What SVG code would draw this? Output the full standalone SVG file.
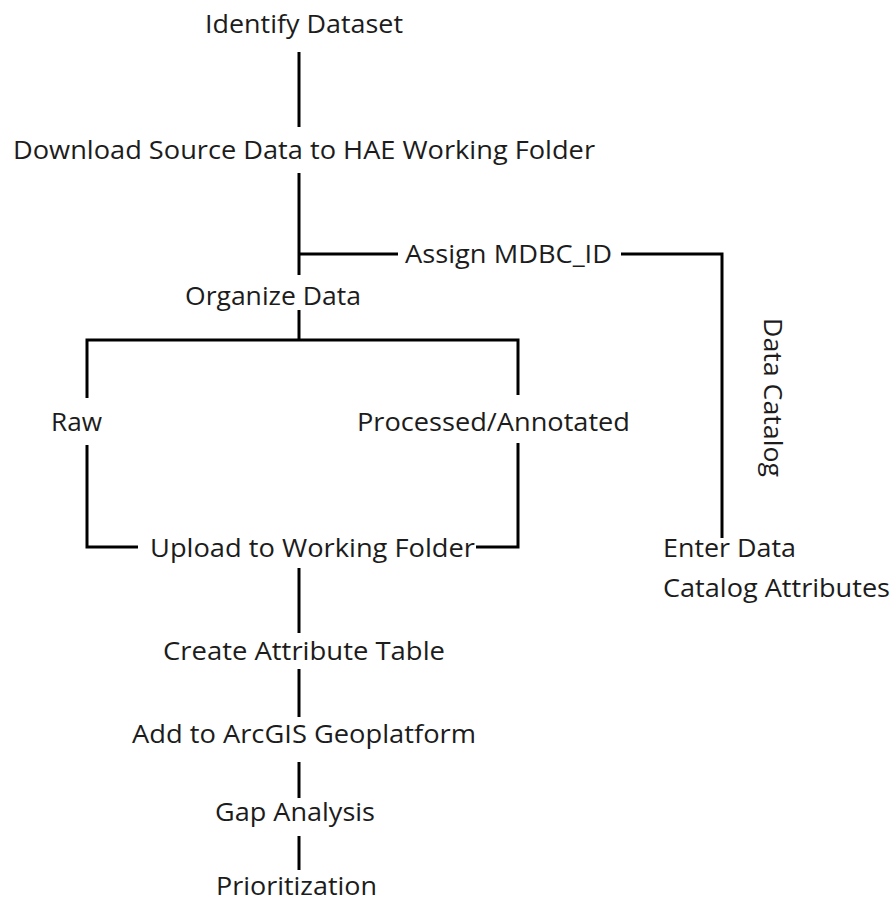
<svg xmlns="http://www.w3.org/2000/svg" width="896" height="899" viewBox="0 0 896 899">
<style>
  .bg { fill: #ffffff; }
  .lbl { font-family: "Open Sans", "Noto Sans", "Liberation Sans", sans-serif; font-size: 25.5px; fill: #1c1c1c; }
  .conn { fill: none; stroke: #000000; stroke-width: 3; stroke-linecap: butt; stroke-linejoin: miter; }
</style>
<rect class="bg" x="0" y="0" width="896" height="899"/>
<g id="connectors">
  <path class="conn" d="M299 52 V127"/>
  <path class="conn" d="M299 173 V275"/>
  <path class="conn" d="M299 254 H398"/>
  <path class="conn" d="M621 254 H722 V538"/>
  <path class="conn" d="M299 310 V340"/>
  <path class="conn" d="M87 398 V340 H518 V395"/>
  <path class="conn" d="M87 445 V547 H138"/>
  <path class="conn" d="M476 547 H518 V443"/>
  <path class="conn" d="M299 568 V633"/>
  <path class="conn" d="M299 669 V717"/>
  <path class="conn" d="M299 762 V798"/>
  <path class="conn" d="M299 836 V870"/>
</g>
<g id="identify-dataset"><text class="lbl" x="205" y="33" textLength="198" lengthAdjust="spacingAndGlyphs">Identify Dataset</text></g>
<g id="download-source"><text class="lbl" x="13" y="159" textLength="582" lengthAdjust="spacingAndGlyphs">Download Source Data to HAE Working Folder</text></g>
<g id="assign-mdbc-id"><text class="lbl" x="405" y="263" textLength="207" lengthAdjust="spacingAndGlyphs">Assign MDBC_ID</text></g>
<g id="organize-data"><text class="lbl" x="185" y="305" textLength="176" lengthAdjust="spacingAndGlyphs">Organize Data</text></g>
<g id="raw"><text class="lbl" x="51" y="431" textLength="51" lengthAdjust="spacingAndGlyphs">Raw</text></g>
<g id="processed-annotated"><text class="lbl" x="357" y="431" textLength="273" lengthAdjust="spacingAndGlyphs">Processed/Annotated</text></g>
<g id="upload-working-folder"><text class="lbl" x="150" y="557" textLength="325" lengthAdjust="spacingAndGlyphs">Upload to Working Folder</text></g>
<g id="create-attribute-table"><text class="lbl" x="163" y="660" textLength="282" lengthAdjust="spacingAndGlyphs">Create Attribute Table</text></g>
<g id="add-arcgis"><text class="lbl" x="132" y="743" textLength="344" lengthAdjust="spacingAndGlyphs">Add to ArcGIS Geoplatform</text></g>
<g id="gap-analysis"><text class="lbl" x="215" y="821" textLength="160" lengthAdjust="spacingAndGlyphs">Gap Analysis</text></g>
<g id="prioritization"><text class="lbl" x="216" y="895" textLength="161" lengthAdjust="spacingAndGlyphs">Prioritization</text></g>
<g id="data-catalog"><text class="lbl" transform="translate(764,318) rotate(90)" x="0" y="0" textLength="159" lengthAdjust="spacingAndGlyphs">Data Catalog</text></g>
<g id="enter-data-catalog-attributes">
  <text class="lbl" x="663" y="557" textLength="133" lengthAdjust="spacingAndGlyphs">Enter Data</text>
  <text class="lbl" x="663" y="597" textLength="227" lengthAdjust="spacingAndGlyphs">Catalog Attributes</text>
</g>
</svg>
